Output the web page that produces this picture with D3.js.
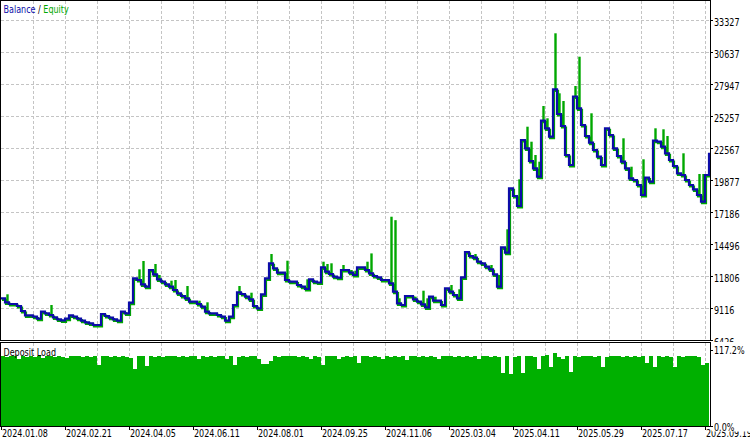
<!DOCTYPE html>
<html><head><meta charset="utf-8">
<script src="https://cdn.jsdelivr.net/npm/d3@7"></script>
<style>html,body{margin:0;padding:0;background:#fff;overflow:hidden}
text{font-family:"DejaVu Sans",sans-serif;font-size:11px}</style>
</head><body><svg id="c" width="750" height="443"></svg>
<script>
// Balance after each deal (USD)
const balance = [
 9931,9595,9452,9452,9284,8864,8502,8502,8385,8216,8805,8670,8527,8334,8166,8082,8216,8502,8385,8216,
 8048,7914,7830,7687,7687,8612,8443,8300,8166,8048,8805,8670,9561,11613,11470,11108,10907,12311,11949,11529,
 11327,11108,10907,10629,10352,10125,9931,9646,9646,9452,9225,8805,8670,8670,8527,8385,8048,8385,9368,10436,
 10293,10066,9847,9284,9091,10268,11613,12874,12453,12084,12084,11470,11327,11327,11050,10907,10713,11529,11327,11260,
 12538,12168,11974,11747,11663,12311,12311,12084,11890,12538,12538,12311,12033,11806,11697,11470,11470,11192,10486,9511,
 9368,10125,10125,9847,9646,9427,9175,10066,9730,9730,9368,10772,10486,10209,9931,11697,13824,13487,13345,13008,
 12874,12588,12369,11949,10907,14219,13765,19179,18531,17691,23239,22541,21474,20860,20154,24862,24223,23517,27501,25425,
 24416,21978,21137,26896,25904,24500,23575,23012,22398,21835,21137,24223,23659,22541,21894,21415,20860,20019,19876,19456,
 18615,20070,19734,23180,23096,22676,22121,21558,21053,20440,20297,19876,19456,19095,18615,18053,20297,22171
];
// Equity peaks reached during a deal (deal index, value)
const spikeIdx = [1,12,34,35,38,39,42,43,46,49,51,59,62,67,71,76,80,81,82,85,87,88,91,92,97,98,99,103,105,106,108,112,114,118,122,124,126,129,131,132,133,134,135,136,138,139,140,143,144,147,155,157,160,163,165,166,170,174,175];
const spikeVal = [10268,9368,12369,13067,12815,11890,11412,11470,10966,9730,9595,10966,10402,13656,13092,11529,13008,12815,12874,12731,12311,12252,13008,13706,16790,16500,9931,10066,10570,9931,10066,11050,10690,13656,12731,11890,15732,19935,24357,23096,21978,21415,26098,25064,32209,27165,26518,27779,30242,25484,23382,20994,21617,24223,24139,23575,22121,20381,20381];
// Deposit load, % per deal
const depositLoad = [
 107.5,106,107,106.5,103,107,106,107.5,106,107,104,106.5,107,106,107.5,106,104,107,106.5,107,
 106,107.5,106,107,94,106.5,107,106,107.5,106,107,106,104,87,107,106.5,92,107.5,106,107,
 106,107.5,106.5,107,106,107,106,107.5,106.5,102,107,106,107.5,106,107,106.5,103,107,94,106,
 107.5,106,107,106.5,102,95,95,100,107,106,108,107,106.5,107,106,107.5,106,102,107,106,
 94,107,106.5,107,103,106,107.5,106,107,96,106.5,107,106,107.5,106,103,107,106,107.5,106,
 107,101,106.5,107,106,107.5,106,107,106,102,107,106.5,107,106,107.5,106,107,106,107,103,
 106.5,107,106,107.5,106,81,107,79,106,107,81,106.5,107,106,87,107,109,90,112,106,
 103,107,83,107.5,106,107,106.5,107,106,107.5,91,106,107,106.5,107,106,107.5,106,107,106,
 107,96,106.5,90,107,106,107.5,106,90,107,106,107,106.5,107,106,93,96
];
const yTicks = [33327,30637,27947,25257,22567,19877,17186,14496,11806,9116,6426];
const dateIdx = [0,16,32,48,64,80,96,112,128,144,160,176];
const dateLabels = ["2024.01.08","2024.02.21","2024.04.05","2024.06.11","2024.08.01","2024.09.25","2024.11.06","2025.03.04","2025.04.11","2025.05.29","2025.07.17","2025.09.19"];
const depositTicks = [117.2, 0];
const depositTickLabels = ["117.2%","0.0%"];

const BLUE = "#0c0ca8", GREEN = "#00a800", BAR = "#00b000", GRID = "#c4c4c4";
const svg = d3.select("#c");
const N = balance.length - 1;
const x = d3.scaleLinear().domain([0, N]).range([1, 709]);
const y = d3.scaleLinear().domain([6426, 33327]).range([340, 20]);
const yd = d3.scaleLinear().domain([0, 117.2]).range([426, 349.5]);
const SX = 0.73;
function label(g, str, xx, yy, fill) {
  return g.append("text").attr("transform", `translate(${xx},${yy}) scale(${SX},1)`).attr("fill", fill || "#000").text(str);
}

svg.append("rect").attr("width", 750).attr("height", 443).attr("fill", "#fff");
svg.append("defs").append("clipPath").attr("id", "mainclip").append("rect").attr("x", 1).attr("y", 1).attr("width", 709).attr("height", 339);

// main grid
const grid = svg.append("g").attr("stroke", GRID).attr("stroke-dasharray", "3,2").attr("shape-rendering", "crispEdges");
const gridIdx = d3.range(8, N + 1, 8);
gridIdx.forEach(i => {
  const gx = Math.round(x(i)) + 0.5;
  grid.append("line").attr("x1", gx).attr("x2", gx).attr("y1", 1).attr("y2", 340);
});
yTicks.slice(0, -1).forEach(v => {
  const gy = Math.round(y(v)) + 0.5;
  grid.append("line").attr("x1", 1).attr("x2", 710).attr("y1", gy).attr("y2", gy);
});

// lines
const plot = svg.append("g").attr("clip-path", "url(#mainclip)");
const line = d3.line().x((d, i) => x(i)).y(d => y(d)).curve(d3.curveStepAfter);
plot.append("path").datum(balance).attr("d", line).attr("fill", "none").attr("stroke", GREEN)
  .attr("stroke-width", 2.2).attr("transform", "translate(1,1.5)");
plot.selectAll("line.spike").data(spikeIdx).enter().append("line")
  .attr("x1", (k) => x(k + 0.5) + 0.5).attr("x2", (k) => x(k + 0.5) + 0.5)
  .attr("y1", (k) => y(balance[k]) + 1).attr("y2", (k, j) => y(spikeVal[j]))
  .attr("stroke", GREEN).attr("stroke-width", 2.4);
plot.append("path").datum(balance).attr("d", line).attr("fill", "none").attr("stroke", BLUE)
  .attr("stroke-width", 2.2).attr("stroke-linejoin", "miter");

// frame
svg.append("rect").attr("x", 0.5).attr("y", 0.5).attr("width", 710).attr("height", 340)
  .attr("fill", "none").attr("stroke", "#000").attr("shape-rendering", "crispEdges");

// legend
const lg = svg.append("text").attr("transform", `translate(3.5,13) scale(${SX},1)`);
lg.append("tspan").attr("fill", BLUE).text("Balance");
lg.append("tspan").attr("fill", "#000").text(" / ");
lg.append("tspan").attr("fill", GREEN).text("Equity");

// right axis
const ax = svg.append("g");
yTicks.forEach(v => {
  const gy = Math.round(y(v)) + 0.5;
  ax.append("line").attr("x1", 710).attr("x2", 713).attr("y1", gy).attr("y2", gy).attr("stroke", "#000").attr("shape-rendering", "crispEdges");
  label(ax, String(v), 714, gy + 5.2);
});

// deposit load panel
svg.append("rect").attr("x", 0).attr("y", 342).attr("width", 750).attr("height", 101).attr("fill", "#fff");
const dgrid = svg.append("g").attr("stroke", GRID).attr("stroke-dasharray", "3,2").attr("shape-rendering", "crispEdges");
gridIdx.forEach(i => {
  const gx = Math.round(x(i)) + 0.5;
  dgrid.append("line").attr("x1", gx).attr("x2", gx).attr("y1", 343).attr("y2", 426);
});
svg.append("g").attr("shape-rendering", "crispEdges").selectAll("rect").data(depositLoad).enter().append("rect")
  .attr("x", (d, i) => x(i)).attr("width", (d, i) => x(i + 1) - x(i))
  .attr("y", d => yd(d)).attr("height", d => 426 - yd(d)).attr("fill", BAR);
svg.append("rect").attr("x", 0.5).attr("y", 342.5).attr("width", 710).attr("height", 84)
  .attr("fill", "none").attr("stroke", "#000").attr("shape-rendering", "crispEdges");
label(svg, "Deposit Load", 3.5, 355.5);

// date axis
dateIdx.forEach((i, j) => {
  const tx = Math.round(x(i)) + 0.5;
  svg.append("line").attr("x1", tx).attr("x2", tx).attr("y1", 427).attr("y2", 430).attr("stroke", "#000").attr("shape-rendering", "crispEdges");
  label(svg, dateLabels[j], tx + 0.5, 437);
});

// deposit axis labels
depositTicks.forEach((v, j) => {
  const gy = Math.round(yd(v)) + 0.5;
  if (j === depositTicks.length - 1) {
    svg.append("rect").attr("x", 712).attr("y", gy - 5).attr("width", 38).attr("height", 10).attr("fill", "#fff");
  }
  svg.append("line").attr("x1", 710).attr("x2", 713).attr("y1", gy).attr("y2", gy).attr("stroke", "#000").attr("shape-rendering", "crispEdges");
  label(svg, depositTickLabels[j], 714, j === 0 ? 354 : 430.5);
});
</script></body></html>
